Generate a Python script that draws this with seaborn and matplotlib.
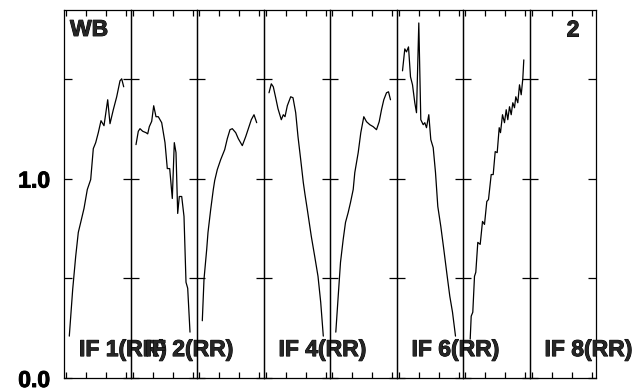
import matplotlib
matplotlib.use("Agg")
import matplotlib.pyplot as plt
import matplotlib.patheffects as pe
import seaborn as sns

# amplitude vs channel for each IF
if1_ch = [2.65, 4.35, 5.85, 7.15, 8.35, 10.0, 11.65, 13.35, 14.65, 15.85, 17.15, 18.5,
          20.0, 21.85, 23.0, 24.65, 26.35, 28.0, 28.85, 29.85]
if1_amp = [0.21, 0.445, 0.61, 0.73, 0.78, 0.85, 0.945, 0.995, 1.15, 1.18, 1.23, 1.29,
           1.265, 1.395, 1.275, 1.345, 1.41, 1.49, 1.5, 1.46]

if2_ch = [2.75, 3.9, 4.75, 6.1, 7.75, 8.6, 9.4, 10.6, 11.6, 12.75, 13.9, 15.6, 17.25,
          18.4, 19.6, 20.9, 21.9, 22.75, 23.6, 24.4, 25.6, 26.75, 27.75, 28.6, 29.75]
if2_amp = [1.17, 1.237, 1.25, 1.237, 1.23, 1.224, 1.26, 1.287, 1.365, 1.31, 1.31, 1.28,
           1.18, 1.05, 1.05, 0.9, 1.18, 1.13, 0.825, 0.91, 0.91, 0.81, 0.48, 0.45, 0.23]

if3_ch = [2.65, 3.5, 4.85, 5.5, 6.85, 8.15, 8.85, 10.15, 11.85, 13.85, 15.15, 16.5,
          17.65, 19.35, 20.65, 22.65, 24.35, 26.0, 27.15, 28.5, 29.85]
if3_amp = [0.287, 0.495, 0.645, 0.73, 0.845, 0.945, 0.99, 1.045, 1.095, 1.145, 1.2, 1.245,
           1.25, 1.23, 1.2, 1.165, 1.21, 1.26, 1.295, 1.32, 1.28]

if4_ch = [2.75, 3.9, 4.9, 6.1, 7.25, 8.9, 9.9, 10.75, 11.9, 13.6, 14.75, 16.1, 17.25,
          18.6, 19.9, 20.75, 21.9, 23.9, 25.6, 27.25, 28.6, 29.9]
if4_amp = [1.43, 1.475, 1.46, 1.405, 1.35, 1.295, 1.32, 1.31, 1.365, 1.41, 1.405, 1.33,
           1.21, 1.095, 0.98, 0.92, 0.845, 0.71, 0.61, 0.51, 0.38, 0.21]

if5_ch = [2.9, 4.1, 5.25, 6.6, 7.75, 9.1, 10.25, 11.6, 12.4, 14.1, 15.4, 16.9, 18.25,
          19.9, 21.6, 23.25, 24.6, 25.75, 26.9, 28.25, 29.25, 30.25]
if5_amp = [0.23, 0.41, 0.58, 0.695, 0.78, 0.83, 0.88, 0.945, 1.03, 1.13, 1.23, 1.31, 1.285,
           1.27, 1.26, 1.245, 1.285, 1.345, 1.395, 1.43, 1.435, 1.395]

if6_ch = [3.0, 4.15, 5.0, 6.0, 7.0, 8.0, 9.15, 10.0, 11.15, 12.15, 13.35, 14.15, 15.0,
          16.15, 17.15, 18.35, 19.5, 20.65, 22.15, 23.65, 25.35, 26.65, 28.0, 29.5]
if6_amp = [1.54, 1.65, 1.635, 1.66, 1.51, 1.47, 1.38, 1.33, 1.78, 1.295, 1.27, 1.28, 1.255,
           1.32, 1.195, 1.155, 1.03, 0.86, 0.76, 0.645, 0.51, 0.41, 0.33, 0.21]

if7_ch = [3.6, 4.1, 4.9, 5.75, 6.4, 7.4, 8.6, 9.75, 10.75, 11.9, 12.75, 14.1, 15.1, 16.1,
          17.1, 18.1, 18.75, 19.75, 20.75, 21.6, 22.4, 23.25, 24.1, 24.9, 25.75, 26.4,
          27.4, 28.25, 29.1, 29.9, 30.4]
if7_amp = [0.195, 0.31, 0.33, 0.51, 0.53, 0.68, 0.67, 0.785, 0.77, 0.885, 0.895, 1.02, 1.02,
           1.135, 1.13, 1.255, 1.23, 1.32, 1.28, 1.345, 1.295, 1.36, 1.32, 1.38, 1.355,
           1.41, 1.38, 1.47, 1.42, 1.5, 1.595]

# IF 8 has no data
panels = [(if1_ch, if1_amp), (if2_ch, if2_amp), (if3_ch, if3_amp), (if4_ch, if4_amp),
          (if5_ch, if5_amp), (if6_ch, if6_amp), (if7_ch, if7_amp), ([], [])]
panel_labels = ["IF 1(RR)", "IF 2(RR)", "", "IF 4(RR)", "", "IF 6(RR)", "", "IF 8(RR)"]

y_ticks = [0.0, 0.5, 1.0, 1.5]
y_ticklabels = ["0.0", "", "1.0", ""]
x_ticks = [1, 11, 21, 31]

sns.set_style("ticks")
plt.rcParams["font.family"] = ["Liberation Sans", "DejaVu Sans"]
plt.rcParams["font.weight"] = "bold"

fig, axes = plt.subplots(1, 8, sharey=True, figsize=(6.36, 3.9), dpi=100,
                         gridspec_kw={"wspace": 0})
fig.subplots_adjust(left=64 / 636, right=596 / 636, bottom=12 / 390, top=380 / 390)
fig.patch.set_facecolor("white")

fs = 16.5
# the original lettering is heavier than Liberation Sans Bold
heavy = [pe.withStroke(linewidth=0.7, foreground="black")]

for i, ax in enumerate(axes):
    ch, amp = panels[i]
    if len(ch) > 0:
        sns.lineplot(x=ch, y=amp, ax=ax, color="black", linewidth=0.9, sort=False)
    ax.set_facecolor("none")
    ax.set_xlim(0, 33.25)
    ax.set_ylim(0, 1.845)
    ax.set_xticks(x_ticks)
    ax.set_xticklabels([])
    ax.set_yticks(y_ticks)
    ax.tick_params(axis="x", direction="in", length=4.3, width=0.9, top=True, bottom=True,
                   colors="black")
    ax.tick_params(axis="y", direction="in", length=5.5, width=0.9, left=True, right=True,
                   colors="black")
    for sp in ax.spines.values():
        sp.set_visible(True)
        sp.set_color("black")
        sp.set_linewidth(0.9)
    if panel_labels[i]:
        ax.text(0.226, 0.11, panel_labels[i], transform=ax.get_yaxis_transform(),
                fontsize=fs, fontweight="bold", ha="left", va="baseline",
                clip_on=False, zorder=5, path_effects=heavy)

axes[0].set_yticklabels(y_ticklabels, fontsize=fs, fontweight="bold")
for lab in axes[0].get_yticklabels():
    lab.set_path_effects(heavy)
axes[0].tick_params(axis="y", pad=10)
for ax in axes[1:]:
    ax.tick_params(axis="y", labelleft=False)

axes[0].text(0.09, 1.715, "WB", transform=axes[0].get_yaxis_transform(),
             fontsize=fs, fontweight="bold", ha="left", va="baseline", path_effects=heavy)
axes[7].text(0.749, 1.712, "2", transform=axes[7].get_yaxis_transform(),
             fontsize=fs, fontweight="bold", ha="right", va="baseline", path_effects=heavy)

fig.savefig("out.png", dpi=100)
